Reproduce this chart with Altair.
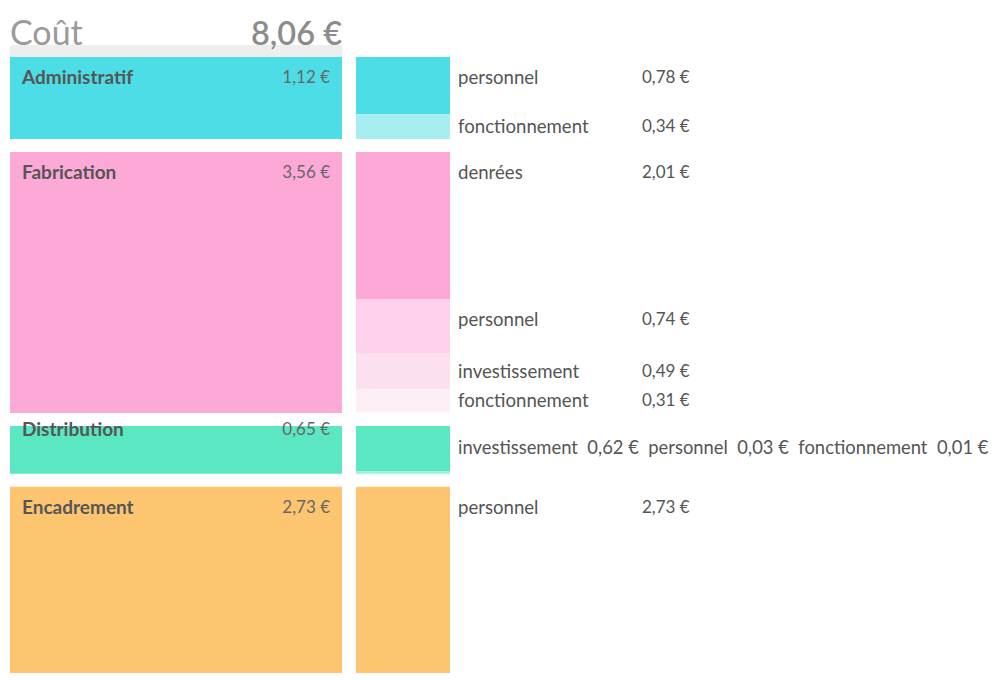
import altair as alt
import pandas as pd

# ---------------- data ----------------
categories = ["Administratif", "Fabrication", "Distribution", "Encadrement"]
category_values = [1.12, 3.56, 0.65, 2.73]
category_colors = ["#4ddde6", "#fda9d8", "#5be7c1", "#fec571"]

sub_groups = ["Administratif", "Administratif",
              "Fabrication", "Fabrication", "Fabrication", "Fabrication",
              "Distribution", "Distribution", "Distribution",
              "Encadrement"]
sub_names = ["personnel", "fonctionnement",
             "denrées", "personnel", "investissement", "fonctionnement",
             "investissement", "personnel", "fonctionnement",
             "personnel"]
sub_values = [0.78, 0.34,
              2.01, 0.74, 0.49, 0.31,
              0.62, 0.03, 0.01,
              2.73]
sub_colors = ["#4ddde6", "#a6eef2",
              "#fda9d8", "#fdd2ea", "#fde0f0", "#feeef6",
              "#5be7c1", "#9df0d9", "#c8f6ea",
              "#fec571"]

title_text = "Coût"

# ---------------- layout (styles) ----------------
W, H = 981, 665
K = 73.3            # px per euro
TOP = 49            # px of first bar top in plot coords
GAP = 13            # px between groups
BAND = 12           # grey band height
FONT = "Lato"
TXT = "#555555"


def euro(v):
    return f"{v:.2f}".replace(".", ",") + "\u00a0€"


gap_e = GAP / K
yscale = alt.Scale(domain=[-TOP / K, (H - TOP) / K], range=[0, H])

# group table
rows = []
pos = 0.0
tops = {}
for c, v, col in zip(categories, category_values, category_colors):
    h_px = v * K
    off = min(21, h_px - 44) / K
    rows.append(dict(cat=c, top=pos, bottom=pos + v, color=col,
                     label_y=pos + off, val=euro(v)))
    tops[c] = pos
    pos += v + gap_e
groups = pd.DataFrame(rows)

# sub table
srows = []
cum = {}
for g, n, v, col in zip(sub_groups, sub_names, sub_values, sub_colors):
    start = tops[g] + cum.get(g, 0.0)
    cum[g] = cum.get(g, 0.0) + v
    h_px = v * K
    srows.append(dict(group=g, name=n, top=start, bottom=start + v, color=col,
                      label_y=start + min(21, h_px / 2) / K, val=euro(v)))
subs = pd.DataFrame(srows)

inline_groups = ["Distribution"]
sub_lab = subs[~subs["group"].isin(inline_groups)]
inline_rows = []
for g in inline_groups:
    part = subs[subs["group"] == g]
    s = "\u00a0\u00a0".join(f"{n}\u00a0\u00a0{v}" for n, v in zip(part["name"], part["val"]))
    inline_rows.append(dict(text=s, label_y=tops[g] + 22 / K))
inline = pd.DataFrame(inline_rows)

band = pd.DataFrame([dict(top=-BAND / K, bottom=0.0)])
total = pd.DataFrame([dict(t=title_text, v=euro(sum(category_values)))])

Y = lambda f: alt.Y(f, type="quantitative", scale=yscale, axis=None)

band_l = alt.Chart(band).mark_rect(color="#eeeeee").encode(
    x=alt.value(2), x2=alt.value(334), y=Y("top"), y2="bottom")

grp_rect = alt.Chart(groups).mark_rect().encode(
    x=alt.value(2), x2=alt.value(334), y=Y("top"), y2="bottom",
    color=alt.Color("color:N", scale=None))

sub_rect = alt.Chart(subs).mark_rect().encode(
    x=alt.value(348), x2=alt.value(442), y=Y("top"), y2="bottom",
    color=alt.Color("color:N", scale=None))

grp_lab = alt.Chart(groups).mark_text(
    align="left", baseline="middle", font=FONT, fontSize=19, fontWeight="bold",
    color=TXT).encode(x=alt.value(14), y=Y("label_y"), text="cat:N")

grp_val = alt.Chart(groups).mark_text(
    align="right", baseline="middle", font=FONT, fontSize=17, color="#666666").encode(
    x=alt.value(322), y=Y("label_y"), text="val:N")

sub_l = alt.Chart(sub_lab).mark_text(
    align="left", baseline="middle", font=FONT, fontSize=18.6, color=TXT).encode(
    x=alt.value(450), y=Y("label_y"), text="name:N")

sub_v = alt.Chart(sub_lab).mark_text(
    align="left", baseline="middle", font=FONT, fontSize=17, color=TXT).encode(
    x=alt.value(634), y=Y("label_y"), text="val:N")

inl = alt.Chart(inline).mark_text(
    align="left", baseline="middle", font=FONT, fontSize=18.4, color=TXT).encode(
    x=alt.value(450), y=Y("label_y"), text="text:N")

t1 = alt.Chart(total).mark_text(
    align="left", baseline="alphabetic", font=FONT, fontSize=34, color="#9a9a9a").encode(
    x=alt.value(2), y=alt.value(37), text="t:N")

t2 = alt.Chart(total).mark_text(
    align="right", baseline="alphabetic", font=FONT, fontSize=32.5, fontWeight=600,
    color="#8c8c8c").encode(x=alt.value(334), y=alt.value(37), text="v:N")

chart = alt.layer(band_l, grp_rect, sub_rect, grp_lab, grp_val, sub_l, sub_v, inl, t1, t2).properties(
    width=W, height=H, autosize=alt.AutoSizeParams(type="none"), padding=0
).configure_view(stroke=None)

chart.save("out.html", embed_options={"renderer": "svg", "actions": False})
